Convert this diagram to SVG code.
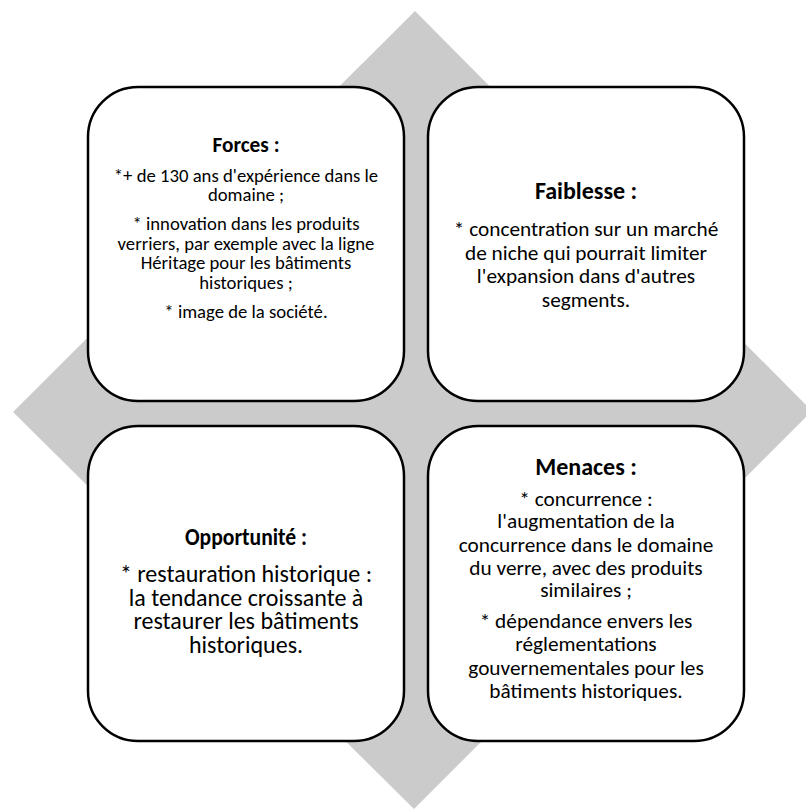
<svg xmlns="http://www.w3.org/2000/svg" width="806" height="809" viewBox="0 0 806 809">
  <style>
    .card { fill: #ffffff; stroke: #000000; stroke-width: 2.5; }
    text { font-family: Carlito, Lato, "Liberation Sans", sans-serif; fill: #000000; text-anchor: middle; }
    .h16 { font-size: 21.3px; font-weight: bold; }
    .h18 { font-size: 24px; font-weight: bold; }
    .b14 { font-size: 18.7px; }
    .b16 { font-size: 21.3px; }
    .b18 { font-size: 24px; }
  </style>

  <!-- grey backdrop diamond -->
  <polygon points="415,11 812,411 414,809 13,412" fill="#cbcbcb"/>

  <g id="connectors"></g>

  <!-- Strengths -->
  <g id="forces">
    <rect class="card" x="88" y="87" width="316" height="314" rx="50" ry="50"/>
    <text class="h16" x="246" y="152">Forces :</text>
    <text class="b14" x="246" y="182">*+ de 130 ans d'expérience dans le</text>
    <text class="b14" x="246" y="201">domaine ;</text>
    <text class="b14" x="246" y="230">* innovation dans les produits</text>
    <text class="b14" x="246" y="250">verriers, par exemple avec la ligne</text>
    <text class="b14" x="246" y="269">Héritage pour les bâtiments</text>
    <text class="b14" x="246" y="289">historiques ;</text>
    <text class="b14" x="246" y="318">* image de la société.</text>
  </g>

  <!-- Weakness -->
  <g id="faiblesse">
    <rect class="card" x="428" y="87" width="316" height="314" rx="50" ry="50"/>
    <text class="h18" x="586" y="199">Faiblesse :</text>
    <text class="b16" x="586" y="236">* concentration sur un marché</text>
    <text class="b16" x="586" y="260">de niche qui pourrait limiter</text>
    <text class="b16" x="586" y="283">l'expansion dans d'autres</text>
    <text class="b16" x="586" y="307">segments.</text>
  </g>

  <!-- Opportunity -->
  <g id="opportunite">
    <rect class="card" x="88" y="426" width="316" height="315" rx="50" ry="50"/>
    <text class="h18" x="246" y="545" textLength="122" lengthAdjust="spacingAndGlyphs">Opportunité :</text>
    <text class="b18" x="246" y="582">* restauration historique :</text>
    <text class="b18" x="246" y="606">la tendance croissante à</text>
    <text class="b18" x="246" y="629">restaurer les bâtiments</text>
    <text class="b18" x="246" y="653">historiques.</text>
  </g>

  <!-- Threats -->
  <g id="menaces">
    <rect class="card" x="428" y="426" width="316" height="315" rx="50" ry="50"/>
    <text class="h18" x="586" y="475">Menaces :</text>
    <text class="b16" x="586" y="506">* concurrence :</text>
    <text class="b16" x="586" y="528">l'augmentation de la</text>
    <text class="b16" x="586" y="552">concurrence dans le domaine</text>
    <text class="b16" x="586" y="575">du verre, avec des produits</text>
    <text class="b16" x="586" y="597">similaires ;</text>
    <text class="b16" x="586" y="628">* dépendance envers les</text>
    <text class="b16" x="586" y="651">réglementations</text>
    <text class="b16" x="586" y="675">gouvernementales pour les</text>
    <text class="b16" x="586" y="698">bâtiments historiques.</text>
  </g>
</svg>
